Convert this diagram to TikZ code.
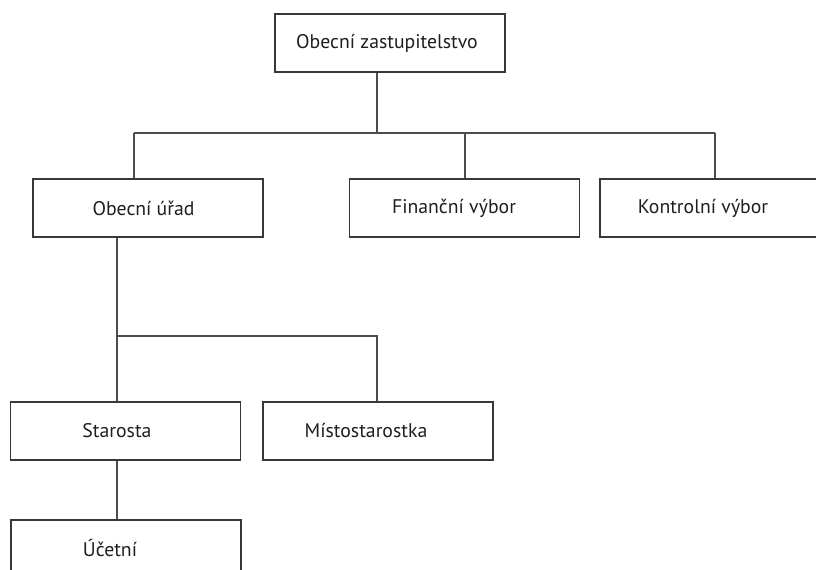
\documentclass[tikz,border=0pt]{standalone}
\usepackage{fontspec}
\setmainfont{PT Sans}
\begin{document}
\begin{tikzpicture}[x=0.75pt,y=-0.75pt,
  box/.style={draw=black!78,line width=1.1pt,minimum width=172.5pt,minimum height=43.5pt,inner sep=0pt,fill=white},
  txt/.style={inner sep=0pt,font=\fontsize{14.8pt}{17pt}\selectfont,text=black!88},
  conn/.style={draw=black!70,line width=1.1pt}]
\path[use as bounding box,clip] (0,0) rectangle (816,570);
% boxes
\node[box] (oz) at (390,43) {};
\node[box] (ou) at (148,208) {};
\node[box] (fv) at (464.5,208) {};
\node[box] (kv) at (715,208) {};
\node[box] (st) at (125.5,431) {};
\node[box] (ms) at (378,431) {};
\node[box] (ue) at (126,549) {};
% texts
\node[txt] (tz) at (387,43) {Obecní zastupitelstvo};
\node[txt] (tu) at (143.5,208) {Obecní úřad};
\node[txt] (tf) at (454,208) {Finanční výbor};
\node[txt] (tk) at (703,208) {Kontrolní výbor};
\node[txt] (ts) at (117,431) {Starosta};
\node[txt] (tm) at (366,431) {Místostarostka};
\node[txt] (te) at (110,548) {Účetní};
% junctions
\coordinate (a) at (377,133);
\coordinate (aL) at (134,133);
\coordinate (aF) at (465,133);
\coordinate (aR) at (715,133);
\coordinate (b) at (117,336);
\coordinate (bR) at (377,336);
% connectors
\draw[conn] (oz.south -| a) -- (a);
\draw[conn] (aL) -- (aR);
\draw[conn] (aL) -- (aL |- ou.north);
\draw[conn] (aF) -- (aF |- fv.north);
\draw[conn] (aR) -- (aR |- kv.north);
\draw[conn] (ou.south -| b) -- (b) -- (bR) -- (bR |- ms.north);
\draw[conn] (b) -- (b |- st.north);
\draw[conn] (st.south -| b) -- (ue.north -| b);
\end{tikzpicture}
\end{document}
